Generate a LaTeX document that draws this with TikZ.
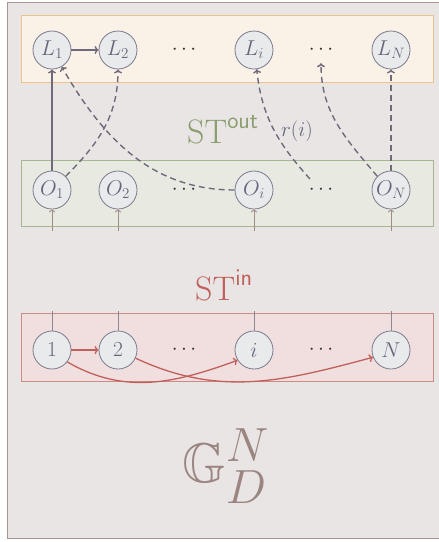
\RequirePackage{fix-cm}
\documentclass[tikz,border=0pt]{standalone}
\usepackage{amssymb}
\DeclareFontFamily{U}{msb}{}
\DeclareFontShape{U}{msb}{m}{n}{<-> msbm10}{}
\usetikzlibrary{arrows.meta}
\definecolor{framefill}{HTML}{EAE5E5}
\definecolor{frameline}{HTML}{A8958F}
\definecolor{topfill}{HTML}{FAF1E7}
\definecolor{topline}{HTML}{EAC48C}
\definecolor{midfill}{HTML}{E8EAE2}
\definecolor{midline}{HTML}{A5B690}
\definecolor{botfill}{HTML}{F1DFDF}
\definecolor{botline}{HTML}{CF8A84}
\definecolor{ndfill}{HTML}{E8EAEC}
\definecolor{ndline}{HTML}{7A7A8C}
\definecolor{ndtext}{HTML}{66667A}
\definecolor{arrc}{HTML}{6E6A7A}
\definecolor{redc}{HTML}{C0605A}
\definecolor{greenc}{HTML}{8A9E6E}
\definecolor{brownc}{HTML}{A08A84}
\definecolor{grayc}{HTML}{8E8890}
\definecolor{gcol}{HTML}{9A8580}
\begin{document}
\begin{tikzpicture}[x=1pt,y=1pt,
  nd/.style={circle, draw=ndline, fill=ndfill, line width=0.8pt, minimum size=38pt, inner sep=0pt, text=ndtext, font=\fontsize{21.5}{25}\selectfont},
  dotsnode/.style={inner sep=0pt, minimum height=26pt, text=black!80, font=\fontsize{21}{25}\selectfont},
  solidarrow/.style={draw=arrc, line width=1.4pt, -{To[length=4pt,width=8pt]}},
  dasharrow/.style={draw=arrc, line width=1.4pt, dash pattern=on 6pt off 4pt, -{To[length=4pt,width=8pt]}},
  redarrow/.style={draw=redc, line width=1.3pt, -{To[length=4pt,width=8pt]}},
  brarrow/.style={draw=brownc, line width=0.9pt, -{To[length=3pt,width=6pt]}},
  grline/.style={draw=grayc, line width=0.9pt},
]
\useasboundingbox (0,0) rectangle (439,-542);
% outer frame
\draw[fill=framefill, draw=frameline, line width=1pt] (7.5,-2.5) rectangle (470,-538.5);
% boxes
\draw[fill=topfill, draw=topline, line width=0.9pt] (21,-15) rectangle (433,-82);
\draw[fill=midfill, draw=midline, line width=0.9pt] (21,-160) rectangle (433,-226);
\draw[fill=botfill, draw=botline, line width=0.9pt] (21,-313) rectangle (433,-381);

% L row
\node[nd] (l1) at (52,-50) {$L_1$};
\node[nd] (l2) at (118,-50) {$L_2$};
\node[dotsnode] (ld1) at (184,-50) {$\cdots$};
\node[nd] (li) at (254,-50) {$L_i$};
\node[dotsnode] (ld2) at (321,-50) {$\cdots$};
\node[nd] (ln) at (391,-50) {$L_N$};

% O row
\node[nd] (o1) at (52,-190) {$O_1$};
\node[nd] (o2) at (118,-190) {$O_2$};
\node[dotsnode] (od1) at (184,-190) {$\cdots$};
\node[nd] (oi) at (254,-190) {$O_i$};
\node[dotsnode] (od2) at (321,-190) {$\cdots$};
\node[nd] (on) at (391,-190) {$O_N$};

% in row
\node[nd] (n1) at (52,-350) {$1$};
\node[nd] (n2) at (118,-350) {$2$};
\node[dotsnode] (nd1) at (184,-350) {$\cdots$};
\node[nd] (ni) at (254,-350) {$i$};
\node[dotsnode] (nd2) at (321,-350) {$\cdots$};
\node[nd] (nn) at (391,-350) {$N$};

% labels
\node[anchor=base west, inner sep=0pt, text=greenc, font=\fontsize{34}{40}\selectfont] (stout) at (187,-143) {$\mathrm{ST}^{\mathsf{out}}$};
\node[anchor=base west, inner sep=0pt, text=redc, font=\fontsize{34}{40}\selectfont] (stin) at (195,-300) {$\mathrm{ST}^{\mathsf{in}}$};
\node[inner sep=0pt, text=ndtext, font=\fontsize{21}{25}\selectfont] (ri) at (297,-131) {$r(i)$};
\node[anchor=base west, inner sep=0pt, text=gcol, font=\fontsize{56}{60}\selectfont] (g) at (182,-482) {$\mathbb{G}^{\mbox{\fontsize{48}{50}\selectfont$N$}}_{\mbox{\fontsize{48}{50}\selectfont$D$}}$};

% top connections
\coordinate (rs) at (310,-179);
\draw[solidarrow] (l1) -- (l2);
\draw[solidarrow] (o1.north) -- (l1.south);
\draw[dasharrow] (o1.45) to[out=45,in=-90] (l2.south);
\draw[dasharrow] (oi.west) to[out=180,in=-60] (l1.-60);
\draw[dasharrow] (rs) to[out=132,in=-84] (li.-82);
\draw[dasharrow] (on.135) to[out=130,in=-90] (ld2.south);
\draw[dasharrow] (on.north) -- (ln.south);

% small arrows into O nodes
\coordinate (ob1) at (52,-231);
\coordinate (ob2) at (118,-231);
\coordinate (obi) at (254,-231);
\coordinate (obn) at (391,-231);
\draw[brarrow] (ob1) -- (o1.south);
\draw[brarrow] (ob2) -- (o2.south);
\draw[brarrow] (obi) -- (oi.south);
\draw[brarrow] (obn) -- (on.south);

% lines above in nodes
\coordinate (nt1) at (52,-311);
\coordinate (nt2) at (118,-311);
\coordinate (nti) at (254,-311);
\coordinate (ntn) at (391,-311);
\draw[grline] (n1.north) -- (nt1);
\draw[grline] (n2.north) -- (nt2);
\draw[grline] (ni.north) -- (nti);
\draw[grline] (nn.north) -- (ntn);

% red arrows
\draw[redarrow] (n1) -- (n2);
\draw[redarrow] (n1.-38) to[out=-30,in=200] (ni.-148);
\draw[redarrow] (n2.-25) to[out=-25,in=195] (nn.-158);
\end{tikzpicture}
\end{document}
